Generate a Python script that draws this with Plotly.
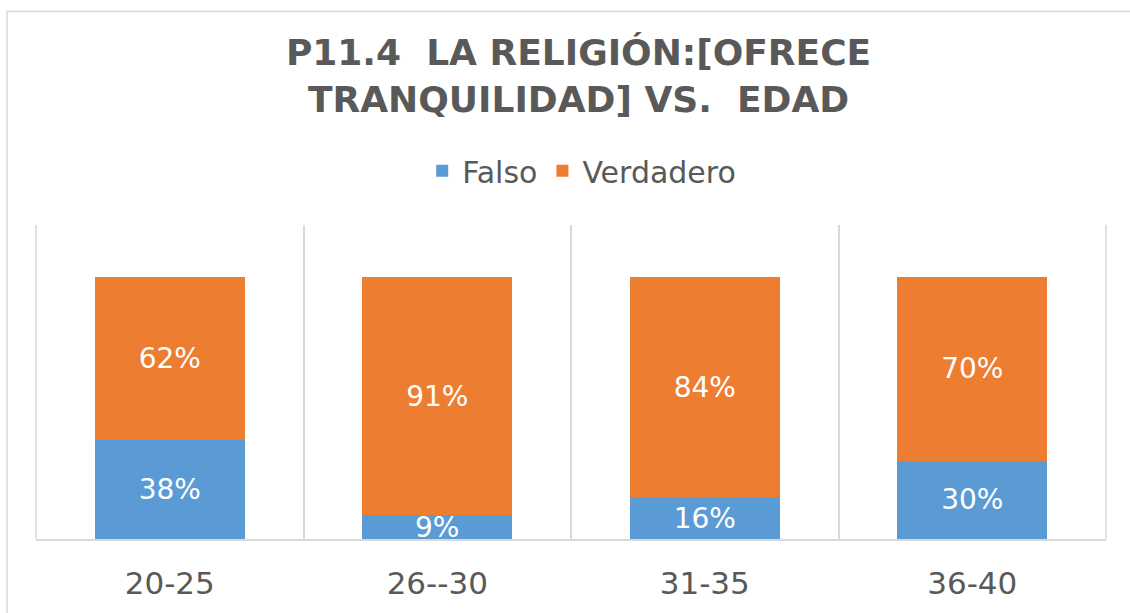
import plotly.graph_objects as go

AGE_GROUPS = ["20-25", "26--30", "31-35", "36-40"]
FALSO = [38, 9, 16, 30]
VERDADERO = [62, 91, 84, 70]

TITLE_TEXT = "P11.4  LA RELIGIÓN:[OFRECE<br>TRANQUILIDAD] VS.  EDAD"

BLUE = "#5B9BD5"
ORANGE = "#ED7D31"
TEXT_GREY = "#595959"
LINE_GREY = "#D9D9D9"

TITLE_FONT = {"family": "DejaVu Sans", "size": 36, "color": TEXT_GREY, "weight": "bold"}
TICK_FONT = {"family": "DejaVu Sans", "size": 31, "color": TEXT_GREY}
LEGEND_FONT = {"family": "DejaVu Sans", "size": 30, "color": TEXT_GREY}
BAR_TEXT_FONT = {"family": "DejaVu Sans", "size": 28, "color": "white"}

WIDTH, HEIGHT = 1130, 613
MARGIN = {"l": 36, "r": 24, "t": 225, "b": 69}
PLOT_W = WIDTH - MARGIN["l"] - MARGIN["r"]
PLOT_H = HEIGHT - MARGIN["t"] - MARGIN["b"]


def bar_trace(values, name, color):
    return go.Bar(
        x=AGE_GROUPS,
        y=values,
        name=name,
        width=0.56,
        marker={"color": color, "line": {"width": 0}},
        text=[f"{v}%" for v in values],
        textposition="inside",
        insidetextanchor="middle",
        constraintext="none",
        cliponaxis=True,
        textfont=BAR_TEXT_FONT,
        hoverinfo="skip",
    )


data = [
    bar_trace(FALSO, "Falso", BLUE),
    bar_trace(VERDADERO, "Verdadero", ORANGE),
]

# grey frame round the chart plus the outer category boundaries
shapes = [
    go.layout.Shape(
        type="rect",
        xref="paper",
        yref="paper",
        x0=(7 - MARGIN["l"]) / PLOT_W,
        x1=(WIDTH + 10 - MARGIN["l"]) / PLOT_W,
        y0=-(MARGIN["b"] + 10) / PLOT_H,
        y1=(HEIGHT - MARGIN["b"] - 8) / PLOT_H,
        line={"color": LINE_GREY, "width": 1.5},
        layer="below",
    )
]
for edge in (0, 1):
    shapes.append(
        go.layout.Shape(
            type="line",
            xref="paper",
            yref="paper",
            x0=edge,
            x1=edge,
            y0=0,
            y1=1,
            line={"color": LINE_GREY, "width": 1.5},
            layer="below",
        )
    )

layout = go.Layout(
    width=WIDTH,
    height=HEIGHT,
    margin=MARGIN,
    barmode="stack",
    paper_bgcolor="white",
    plot_bgcolor="white",
    title={
        "text": TITLE_TEXT,
        "font": TITLE_FONT,
        "x": 0.512,
        "xanchor": "center",
        "y": 1 - 65 / HEIGHT,
        "yanchor": "middle",
    },
    xaxis={
        "type": "category",
        "range": [-0.5, 3.5],
        "showgrid": True,
        "tickson": "boundaries",
        "gridcolor": LINE_GREY,
        "gridwidth": 1.5,
        "ticks": "",
        "showline": True,
        "linecolor": LINE_GREY,
        "linewidth": 2,
        "tickfont": TICK_FONT,
        "ticklabelstandoff": 16,
    },
    yaxis={
        "range": [0, 120],
        "showgrid": False,
        "zeroline": False,
        "showticklabels": False,
        "showline": False,
    },
    legend={
        "orientation": "h",
        "x": 0.51,
        "xanchor": "center",
        "y": 1 + 55 / PLOT_H,
        "yanchor": "middle",
        "font": LEGEND_FONT,
        "itemwidth": 30,
        "traceorder": "normal",
    },
    shapes=shapes,
)

fig = go.Figure(data=data, layout=layout)
fig.write_html(
    "out.html",
    config={"displayModeBar": False},
    post_script="document.body.style.margin = '0';",
)
